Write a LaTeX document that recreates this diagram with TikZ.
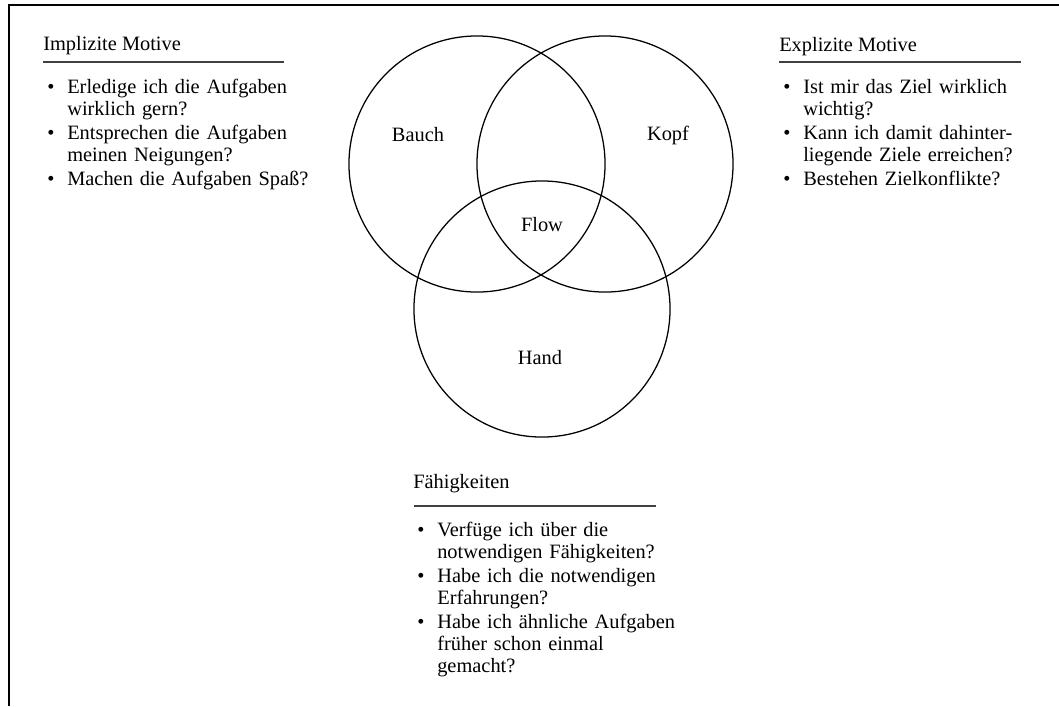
\documentclass[tikz,border=0pt]{standalone}
\usepackage{fontspec}
\setmainfont{Liberation Serif}
\newcommand{\itm}[1]{\noindent\makebox[0.6cm][l]{\hspace{0.1cm}\textbullet}%
  \parbox[t]{6.4cm}{\raggedright #1}\par\vspace{0.1cm}}

\begin{document}
\begin{tikzpicture}[x=0.025cm,y=-0.025cm,
    every node/.style={inner sep=0pt,font=\fontsize{14.5}{15.6}\selectfont},
    ring/.style={circle,draw,line width=0.9pt,minimum size=6.4cm},
    head/.style={anchor=west},
    list/.style={anchor=north west,text width=7cm},
    rule/.style={line width=0.9pt,black!75},
    frame/.style={line width=1.3pt}]
  \useasboundingbox (0,0) rectangle (1059,706);
  \draw[frame] (9,706) |- (1059,5);

  \node[ring] (bauch) at (477,164) {};
  \node[ring] (kopf)  at (605,164) {};
  \node[ring] (hand)  at (542,309) {};
  \node (bauchL) at (418,135) {Bauch};
  \node (kopfL)  at (668,135) {Kopf};
  \node (flowL)  at (542,225) {Flow};
  \node (handL)  at (540,358) {Hand};

  \node[head] (implT) at (43,46) {Implizite Motive};
  \draw[rule] (43,62) -- (284,62);
  \node[list] (implL) at (43,79) {%
    \itm{Erledige ich die Aufgaben\\wirklich gern?}
    \itm{Entsprechen die Aufgaben\\meinen Neigungen?}
    \itm{Machen die Aufgaben Spaß?}};

  \node[head] (explT) at (779,47) {Explizite Motive};
  \draw[rule] (779,62) -- (1021,62);
  \node[list] (explL) at (779,79) {%
    \itm{Ist mir das Ziel wirklich\\wichtig?}
    \itm{Kann ich damit dahinter-\\liegende Ziele erreichen?}
    \itm{Bestehen Zielkonflikte?}};

  \node[head] (faehT) at (413,484) {Fähigkeiten};
  \draw[rule] (414,506) -- (656,506);
  \node[list] (faehL) at (413,522) {%
    \itm{Verfüge ich über die\\notwendigen Fähigkeiten?}
    \itm{Habe ich die notwendigen\\Erfahrungen?}
    \itm{Habe ich ähnliche Aufgaben\\früher schon einmal\\gemacht?}};
\end{tikzpicture}
\end{document}
